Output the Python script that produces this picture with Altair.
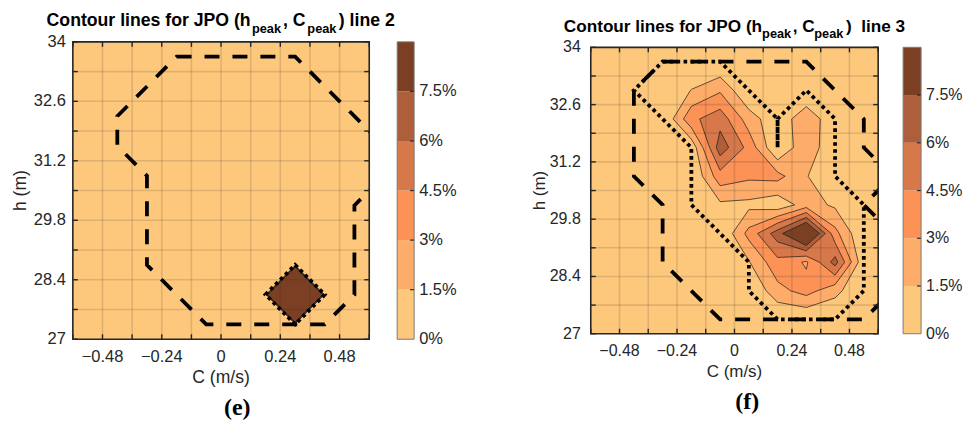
import numpy as np
import pandas as pd
import altair as alt

# Bin centres of the joint (C_peak, h_peak) histogram
C_NODES = [-0.54, -0.42, -0.30, -0.18, -0.06, 0.06, 0.18, 0.30, 0.42, 0.54]
H_NODES = [33.65, 32.95, 32.25, 31.55, 30.85, 30.15, 29.45, 28.75, 28.05, 27.35]

# Joint probability of occurrence (%), rows follow H_NODES, columns C_NODES
JPO_LINE2 = [
    [0, 0, 0, 0, 0, 0, 0, 0, 0, 0],
    [0, 0, 0, 0, 0, 0, 0, 0, 0, 0],
    [0, 0, 0, 0, 0, 0, 0, 0, 0, 0],
    [0, 0, 0, 0, 0, 0, 0, 0, 0, 0],
    [0, 0, 0, 0, 0, 0, 0, 0, 0, 0],
    [0, 0, 0, 0, 0, 0, 0, 0, 0, 0],
    [0, 0, 0, 0, 0, 0, 0, 0, 0, 0],
    [0, 0, 0, 0, 0, 0, 0, 0, 0, 0],
    [0, 0, 0, 0, 0, 0, 0, 100, 0, 0],
    [0, 0, 0, 0, 0, 0, 0, 0, 0, 0],
]
JPO_LINE3 = [
    [0, 0, 0, 0,    0,    0,    0,    0,    0,    0],
    [0, 0, 0, 1.55, 2.8,  0,    0,    0,    0,    0],
    [0, 0, 0, 4.14, 5.38, 2.24, 0.4,  2.63, 0.3,  0],
    [0, 0, 0, 0.4,  6.86, 4.0,  0,    2.73, 0,    0],
    [0, 0, 0, 0,    3.89, 3.3,  3.5,  1.6,  0,    0],
    [0, 0, 0, 0,    1.2,  1.1,  0.47, 2.2,  1.24, 0],
    [0, 0, 0, 0,    0,    3.5,  6.8,  10.9, 3.5,  0],
    [0, 0, 0, 0,    0,    1.4,  4.05, 2.8,  6.6,  0.3],
    [0, 0, 0, 0,    0,    0,    2.5,  3.6,  2.0,  0],
    [0, 0, 0, 0,    0,    0,    0,    0,    0,    0],
]

# Envelope lines drawn over the contours (C, h vertices)
LINE2_DASHED_C = [-0.18, 0.30, 0.66, 0.66, 0.54, 0.54, 0.42, -0.06, -0.30, -0.30, -0.42, -0.42]
LINE2_DASHED_H = [33.65, 33.65, 31.55, 30.85, 30.15, 28.05, 27.35, 27.35, 28.75, 30.85, 31.55, 32.25]
LINE2_DOTTED_C = [0.18, 0.30, 0.42, 0.30]
LINE2_DOTTED_H = [28.05, 28.75, 28.05, 27.35]
LINE3_DASHED_C = [-0.30, 0.30, 0.54, 0.54, 0.66, 0.54, 0.66, 0.66, 0.54, -0.06, -0.30, -0.30, -0.42, -0.42]
LINE3_DASHED_H = [33.65, 33.65, 32.25, 31.55, 30.85, 30.15, 29.45, 28.05, 27.35, 27.35, 28.75, 30.15, 30.85, 32.95]
LINE3_DOTTED_C = [-0.30, -0.06, 0.18, 0.18, 0.18, 0.30, 0.42, 0.42, 0.54, 0.54, 0.42, 0.18, 0.06, 0.06, -0.18, -0.18, -0.42]
LINE3_DOTTED_H = [33.65, 33.65, 32.25, 31.55, 32.25, 32.95, 32.25, 30.85, 30.15, 28.05, 27.35, 27.35, 28.05, 28.75, 30.15, 31.55, 32.95]

LEVELS = [1.5, 3.0, 4.5, 6.0, 7.5]
BAND_COLORS = ["#FEC87C", "#FDAC69", "#FC9256", "#D7784A", "#AD5E3B", "#7B4024"]
CBAR_TOP = 9.0
CBAR_TICKS = [0, 1.5, 3, 4.5, 6, 7.5]

C_TICKS = [-0.6, -0.48, -0.36, -0.24, -0.12, 0.0, 0.12, 0.24, 0.36, 0.48, 0.6]
H_TICKS = [27.0, 27.7, 28.4, 29.1, 29.8, 30.5, 31.2, 31.9, 32.6, 33.3, 34.0]
C_LABELED = [-0.48, -0.24, 0.0, 0.24, 0.48]
H_LABELED = [27.0, 28.4, 29.8, 31.2, 32.6, 34.0]

INK = "#262626"
FONT = "Liberation Sans"


def contour_rings(grid, level):
    """Closed rings bounding {value >= level}, traced with the high side on the left."""
    z = np.asarray(grid, dtype=float)[::-1]
    z = np.pad(z, 1, mode="constant", constant_values=0.0)
    ny, nx = z.shape
    up = z >= level

    def point(edge):
        kind, i, j = edge
        if kind == "h":
            a, b = z[j, i], z[j, i + 1]
            return i + (level - a) / (b - a), float(j)
        a, b = z[j, i], z[j + 1, i]
        return float(i), j + (level - a) / (b - a)

    link = {}
    for j in range(ny - 1):
        for i in range(nx - 1):
            corners = [(i, j), (i + 1, j), (i + 1, j + 1), (i, j + 1)]
            edges = [("h", i, j), ("v", i + 1, j), ("h", i, j + 1), ("v", i, j)]
            cross = []
            for k in range(4):
                (ia, ja), (ib, jb) = corners[k], corners[(k + 1) % 4]
                if up[ja, ia] != up[jb, ib]:
                    cross.append((edges[k], bool(up[ja, ia])))
            if not cross:
                continue
            if len(cross) == 2:
                out = [e for e, leaving in cross if leaving][0]
                inn = [e for e, leaving in cross if not leaving][0]
                link[out] = inn
            else:
                joined = z[j:j + 2, i:i + 2].mean() >= level
                for k, (e, leaving) in enumerate(cross):
                    if leaving:
                        link[e] = cross[(k + 1) % 4][0] if joined else cross[k - 1][0]

    dC = C_NODES[1] - C_NODES[0]
    dH = H_NODES[0] - H_NODES[1]
    rings = []
    while link:
        start = next(iter(link))
        ring = [start]
        cur = link.pop(start)
        while cur != start:
            ring.append(cur)
            cur = link.pop(cur)
        pts = [point(e) for e in ring]
        n = len(pts)
        area = 0.5 * sum(pts[k][0] * pts[(k + 1) % n][1] - pts[(k + 1) % n][0] * pts[k][1] for k in range(n))
        data = [(C_NODES[0] + dC * (x - 1), H_NODES[-1] + dH * (y - 1)) for x, y in pts]
        rings.append((data, area > 0))
    return rings


def rings_frame(rings, tag):
    rows = []
    for n, pts in enumerate(rings):
        for k, (c, h) in enumerate(pts):
            rows.append({"ring": f"{tag}-{n}", "k": k, "C": c, "h": h})
    return pd.DataFrame(rows)


def num(v):
    return f"{v:g}".replace("-", "\u2212")


def panel(grid, dashed, dotted, title_parts, letter, w, h, fs, afs, tfs, cbar,
          title_y, letter_xy, lab_y, ttl_y, ylab_x, ytl_x):
    xs = alt.Scale(domain=[-0.6, 0.6], nice=False, zero=False)
    ys = alt.Scale(domain=[27, 34], nice=False, zero=False)
    cbs = alt.Scale(domain=[0, CBAR_TOP], nice=False, zero=False)
    one = alt.Data(values=[{}])

    def X():
        return alt.X("C:Q", scale=xs, axis=None)

    def Y():
        return alt.Y("h:Q", scale=ys, axis=None)

    def box(**kw):
        return alt.Chart(one).mark_rect(**kw).encode(
            x=alt.value(0), x2=alt.value(w), y=alt.value(0), y2=alt.value(h))

    layers = [box(fill=BAND_COLORS[0])]

    # filled contour bands, painted from the lowest level upward
    for li, lev in enumerate(LEVELS):
        rings = contour_rings(grid, lev)
        outers = [r for r, outer in rings if outer]
        holes = [r for r, outer in rings if not outer]
        for tag, rs, color in ((f"o{li}", outers, BAND_COLORS[li + 1]), (f"h{li}", holes, BAND_COLORS[li])):
            if not rs:
                continue
            layers.append(
                alt.Chart(rings_frame(rs, tag)).mark_line(
                    interpolate="linear-closed", fill=color, stroke="#1a1a1a", strokeWidth=0.7
                ).encode(x=X(), y=Y(), detail="ring:N", order="k:Q")
            )

    # grid
    layers.append(alt.Chart(pd.DataFrame({"C": C_TICKS[1:-1]})).mark_rule(
        stroke=INK, strokeOpacity=0.15, strokeWidth=1.6).encode(x=X()))
    layers.append(alt.Chart(pd.DataFrame({"h": H_TICKS[1:-1]})).mark_rule(
        stroke=INK, strokeOpacity=0.15, strokeWidth=1.6).encode(y=Y()))

    # envelope lines
    dC, dH = dashed
    layers.append(alt.Chart(pd.DataFrame({"C": dC, "h": dH, "k": range(len(dC))})).mark_line(
        interpolate="linear-closed", stroke="black", strokeWidth=3.8, strokeDash=[15, 13], clip=True
    ).encode(x=X(), y=Y(), order="k:Q"))
    tC, tH = dotted
    layers.append(alt.Chart(pd.DataFrame({"C": tC, "h": tH, "k": range(len(tC))})).mark_line(
        interpolate="linear-closed", stroke="black", strokeWidth=3.8, strokeDash=[3.6, 3.4], clip=True
    ).encode(x=X(), y=Y(), order="k:Q"))

    # inward ticks on all four sides and the frame
    cdf = pd.DataFrame({"C": C_TICKS})
    hdf = pd.DataFrame({"h": H_TICKS})
    for y0, y1 in ((h, h - 5), (0, 5)):
        layers.append(alt.Chart(cdf).mark_rule(stroke=INK, strokeWidth=1.4).encode(
            x=X(), y=alt.value(y0), y2=alt.value(y1)))
    for x0, x1 in ((0, 5), (w - 5, w)):
        layers.append(alt.Chart(hdf).mark_rule(stroke=INK, strokeWidth=1.4).encode(
            y=Y(), x=alt.value(x0), x2=alt.value(x1)))
    layers.append(box(fillOpacity=0, stroke=INK, strokeWidth=1.6))

    # tick labels and axis titles
    xl = pd.DataFrame({"C": C_LABELED, "lab": [num(v) for v in C_LABELED]})
    layers.append(alt.Chart(xl).mark_text(
        font=FONT, fontSize=fs, color=INK, align="center", baseline="alphabetic").encode(
        x=X(), y=alt.value(h + lab_y), text="lab:N"))
    yl = pd.DataFrame({"h": H_LABELED, "lab": [num(v) for v in H_LABELED]})
    layers.append(alt.Chart(yl).mark_text(
        font=FONT, fontSize=fs, color=INK, align="right", baseline="middle").encode(
        y=Y(), x=alt.value(ylab_x), text="lab:N"))
    layers.append(alt.Chart(one).mark_text(
        text="C (m/s)", x=w / 2, y=h + ttl_y, font=FONT, fontSize=afs, color=INK,
        align="center", baseline="alphabetic"))
    layers.append(alt.Chart(one).mark_text(
        text="h (m)", x=ytl_x, y=h / 2, angle=270, font=FONT, fontSize=afs, color=INK,
        align="center", baseline="middle"))

    # title with subscripts
    for text, x, sub in title_parts:
        layers.append(alt.Chart(one).mark_text(
            text=text, x=x, y=title_y + (6.2 if sub else 0), align="left", baseline="alphabetic",
            font=FONT, fontWeight="bold", fontSize=12.8 if sub else tfs, color="black"))
    layers.append(alt.Chart(one).mark_text(
        text=letter, x=letter_xy[0], y=letter_xy[1], align="center", baseline="alphabetic",
        font="Liberation Serif", fontWeight="bold", fontSize=24, color="black"))

    # colour bar
    x0, x1 = cbar
    bands = pd.DataFrame({"lo": [0, 1.5, 3, 4.5, 6, 7.5], "hi": [1.5, 3, 4.5, 6, 7.5, CBAR_TOP],
                          "col": BAND_COLORS})
    layers.append(alt.Chart(bands).mark_rect().encode(
        x=alt.value(x0), x2=alt.value(x1),
        y=alt.Y("lo:Q", scale=cbs, axis=None), y2="hi:Q",
        color=alt.Color("col:N", scale=None)))
    layers.append(alt.Chart(pd.DataFrame({"v": LEVELS})).mark_rule(stroke=INK, strokeWidth=1.2).encode(
        y=alt.Y("v:Q", scale=cbs, axis=None), x=alt.value(x1 - 4), x2=alt.value(x1)))
    layers.append(alt.Chart(pd.DataFrame({"lo": [0.0], "hi": [CBAR_TOP]})).mark_rect(
        fillOpacity=0, stroke="#7a7a7a", strokeWidth=1).encode(
        x=alt.value(x0), x2=alt.value(x1), y=alt.Y("lo:Q", scale=cbs, axis=None), y2="hi:Q"))
    cl = pd.DataFrame({"v": CBAR_TICKS, "lab": [f"{v:g}%" for v in CBAR_TICKS]})
    layers.append(alt.Chart(cl).mark_text(
        font=FONT, fontSize=fs, color=INK, align="left", baseline="middle").encode(
        y=alt.Y("v:Q", scale=cbs, axis=None), x=alt.value(x1 + 5), text="lab:N"))

    return alt.layer(*layers).resolve_scale(y="independent").properties(width=w, height=h)


left = panel(
    JPO_LINE2, (LINE2_DASHED_C, LINE2_DASHED_H), (LINE2_DOTTED_C, LINE2_DOTTED_H),
    [("Contour lines for JPO (h", -26.3, False), ("peak", 179.5, True), (", C", 210.5, False),
     ("peak", 235.0, True), (") line 2", 266.5, False)],
    "(e)", 297, 298, 16.5, 17.6, 17.7, (325, 342), -15.5, (164.7, 374), 22.6, 44.2, -7, -52,
)
right = panel(
    JPO_LINE3, (LINE3_DASHED_C, LINE3_DASHED_H), (LINE3_DOTTED_C, LINE3_DOTTED_H),
    [("Contour lines for JPO (h", -27.0, False), ("peak", 171.7, True), (", C", 202.3, False),
     ("peak", 224.0, True), (")\u00a0\u00a0line 3", 255.7, False)],
    "(f)", 288, 287, 16, 17, 17.2, (313, 331), -15.3, (156.7, 362), 22.3, 43.3, -10, -51,
)

chart = alt.hconcat(left, right, spacing=222, bounds="flush", center=True).properties(
    padding={"left": 12, "top": 11.5, "right": 0, "bottom": 0}
).configure_view(strokeWidth=0)

chart.save("out.html", embed_options={"renderer": "svg", "actions": False})
